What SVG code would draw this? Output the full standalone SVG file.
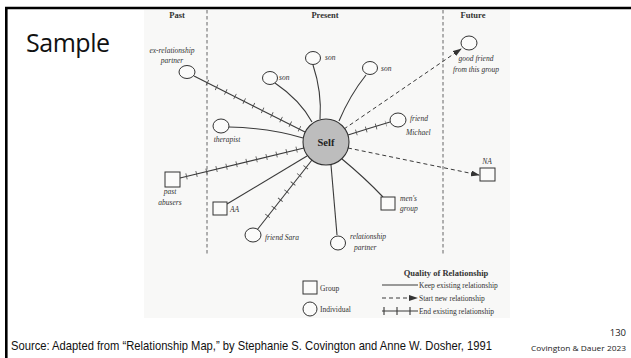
<svg xmlns="http://www.w3.org/2000/svg" width="631" height="358" viewBox="0 0 631 358">
<style>
.ln{fill:none;stroke:#3a3a3a;stroke-width:1.1}
.tk{fill:none;stroke:#4a4a4a;stroke-width:6;stroke-dasharray:0.8 9.5}
.ds{fill:none;stroke:#3a3a3a;stroke-width:1;stroke-dasharray:4 3}
.vd{fill:none;stroke:#555;stroke-width:0.9;stroke-dasharray:3.5 2.5}
.nd{fill:#fbfbfa;stroke:#333;stroke-width:1}
.lb{font-family:"Liberation Serif","DejaVu Serif",serif;font-style:italic;font-size:7.5px;fill:#333}
.hd{font-family:"Liberation Serif","DejaVu Serif",serif;font-weight:bold;font-size:8.5px;fill:#333}
.lg{font-family:"Liberation Serif","DejaVu Serif",serif;font-size:7.5px;fill:#333}
</style>
<defs>
<marker id="ah" markerUnits="userSpaceOnUse" markerWidth="9" markerHeight="6" refX="8" refY="3" orient="auto">
<path d="M0,0 L9,3 L0,6 z" fill="#333"/>
</marker>
</defs>
<rect x="0" y="0" width="631" height="358" fill="#ffffff"/>
<rect x="144" y="10" width="366" height="308" fill="#f8f8f7"/>
<line x1="5" y1="8" x2="631" y2="8" stroke="#000" stroke-width="2.6"/>
<line x1="6.3" y1="7" x2="6.3" y2="358" stroke="#000" stroke-width="2.6"/>
<text x="26" y="52" font-family="'Open Sans','Liberation Sans',sans-serif" font-size="25" fill="#111" textLength="84">Sample</text>

<g id="columns">
<line class="vd" x1="207" y1="10" x2="207" y2="254"/>
<line class="vd" x1="443" y1="10" x2="443" y2="254"/>
<text class="hd" x="177" y="18" text-anchor="middle">Past</text>
<text class="hd" x="325" y="18" text-anchor="middle">Present</text>
<text class="hd" x="473" y="18" text-anchor="middle">Future</text>
</g>

<g id="connectors">
<path class="ln" d="M194,76 L305,132"/>
<path class="tk" d="M207,82.5 L301,129.5"/>
<path class="ln" d="M275,83 Q300,100 312,122"/>
<path class="ln" d="M313,65 Q322,92 320,119"/>
<path class="ln" d="M366,75 Q350,95 339,121"/>
<path class="ds" d="M344,129 L461,49" marker-end="url(#ah)"/>
<path class="ln" d="M348,135 Q370,128 390,122"/>
<path class="tk" d="M356,132.5 L386,123.5"/>
<path class="ds" d="M348,148 L479,175" marker-end="url(#ah)"/>
<path class="ln" d="M342,159 Q365,178 383,197"/>
<path class="ln" d="M331,165 Q334,200 337,235"/>
<path class="ln" d="M312,160 L257,230"/>
<path class="tk" d="M306,167 L262,223"/>
<path class="ln" d="M307,156 L227,204"/>
<path class="ln" d="M304,148 L180,178"/>
<path class="tk" d="M297,149.5 L186,176.5"/>
<path class="ln" d="M229,127 Q270,128 303,138"/>
</g>

<g id="self">
<circle cx="326" cy="142" r="23" fill="#bdbdbd" stroke="#333" stroke-width="1.1"/>
<text x="326" y="146" text-anchor="middle" font-family="'Liberation Serif','DejaVu Serif',serif" font-weight="bold" font-size="10.5" fill="#222">Self</text>
</g>
<g id="ex-partner">
<ellipse class="nd" cx="187" cy="72" rx="8" ry="6.5"/>
<text class="lb" x="172" y="53" text-anchor="middle">ex-relationship</text>
<text class="lb" x="172" y="63" text-anchor="middle">partner</text>
</g>
<g id="son1">
<ellipse class="nd" cx="270" cy="78" rx="7.5" ry="6.5"/>
<text class="lb" x="279" y="80">son</text>
</g>
<g id="son2">
<ellipse class="nd" cx="313" cy="58" rx="7.5" ry="6.5"/>
<text class="lb" x="325" y="60">son</text>
</g>
<g id="son3">
<ellipse class="nd" cx="370" cy="68" rx="7.5" ry="6.5"/>
<text class="lb" x="381" y="71">son</text>
</g>
<g id="good-friend">
<ellipse class="nd" cx="469" cy="43" rx="8" ry="7"/>
<text class="lb" x="476" y="61" text-anchor="middle">good friend</text>
<text class="lb" x="476" y="72" text-anchor="middle">from this group</text>
</g>
<g id="friend-michael">
<ellipse class="nd" cx="398" cy="120" rx="8" ry="7"/>
<text class="lb" x="410" y="121">friend</text>
<text class="lb" x="406" y="135">Michael</text>
</g>
<g id="na">
<rect class="nd" x="480" y="168" width="15" height="13"/>
<text class="lb" x="487" y="164" text-anchor="middle">NA</text>
</g>
<g id="mens-group">
<rect class="nd" x="381" y="197" width="14" height="13"/>
<text class="lb" x="400" y="201">men's</text>
<text class="lb" x="400" y="211">group</text>
</g>
<g id="relationship-partner">
<ellipse class="nd" cx="338" cy="243" rx="7.5" ry="7"/>
<text class="lb" x="350" y="239">relationship</text>
<text class="lb" x="354" y="250">partner</text>
</g>
<g id="friend-sara">
<ellipse class="nd" cx="253" cy="235" rx="8" ry="7"/>
<text class="lb" x="265" y="240">friend Sara</text>
</g>
<g id="aa">
<rect class="nd" x="213" y="202" width="14" height="13"/>
<text class="lb" x="230" y="212">AA</text>
</g>
<g id="past-abusers">
<rect class="nd" x="165" y="172" width="15" height="15"/>
<text class="lb" x="170" y="194" text-anchor="middle">past</text>
<text class="lb" x="170" y="205" text-anchor="middle">abusers</text>
</g>
<g id="therapist">
<ellipse class="nd" cx="221" cy="126" rx="8" ry="7"/>
<text class="lb" x="227" y="142" text-anchor="middle">therapist</text>
</g>

<g id="legend">
<rect class="nd" x="303" y="281" width="14" height="13"/>
<text class="lg" x="320" y="291" font-size="8">Group</text>
<circle class="nd" cx="310" cy="309" r="7"/>
<text class="lg" x="320" y="312" font-size="8">Individual</text>
<text class="hd" x="446" y="276" text-anchor="middle">Quality of Relationship</text>
<line class="ln" x1="382" y1="285" x2="418" y2="285"/>
<text class="lg" x="419" y="288">Keep existing relationship</text>
<line class="ds" x1="382" y1="298" x2="417" y2="298" marker-end="url(#ah)"/>
<text class="lg" x="419" y="301">Start new relationship</text>
<line class="ln" x1="382" y1="311" x2="418" y2="311"/>
<path class="ln" d="M384,307 V315 M397,307 V315 M410,307 V315"/>
<text class="lg" x="419" y="314">End existing relationship</text>
</g>

<text x="626" y="336" text-anchor="end" font-family="'Open Sans','Liberation Sans',sans-serif" font-size="9.5" fill="#222">130</text>
<text transform="translate(11,350) scale(0.83,1)" x="0" y="0" font-family="'Liberation Sans','Open Sans',sans-serif" font-size="13" fill="#111" textLength="579.5" lengthAdjust="spacingAndGlyphs">Source: Adapted from “Relationship Map,” by Stephanie S. Covington and Anne W. Dosher, 1991</text>
<text x="626" y="351" text-anchor="end" font-family="'Open Sans','Liberation Sans',sans-serif" font-size="7" fill="#222" textLength="95" lengthAdjust="spacingAndGlyphs">Covington &amp; Dauer 2023</text>
</svg>
